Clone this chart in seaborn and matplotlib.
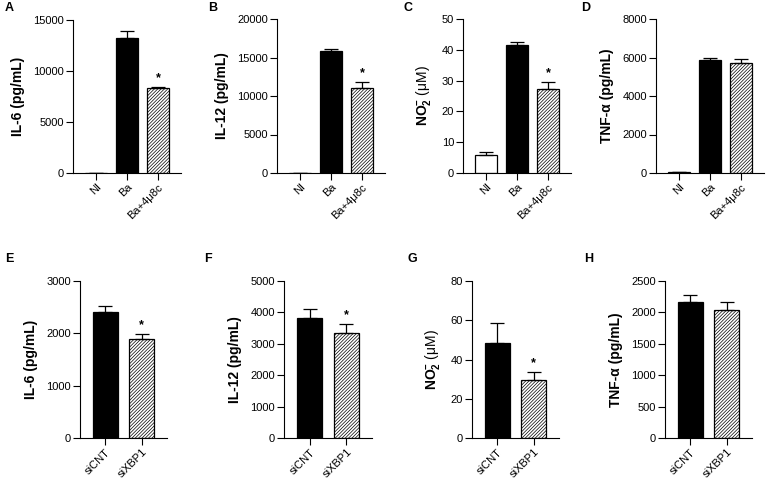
import matplotlib
matplotlib.use("Agg")
import matplotlib.pyplot as plt
import seaborn as sns

# top row: treatment groups
groups_top = ["NI", "Ba", "Ba+4μ8c"]
il6_top = [0, 13200, 8350]
il6_top_err = [0, 700, 100]
il12_top = [0, 15900, 11000]
il12_top_err = [0, 250, 800]
no2_top = [5.8, 41.5, 27.2]
no2_top_err = [0.9, 1.0, 2.4]
tnf_top = [30, 5850, 5700]
tnf_top_err = [20, 150, 200]
sig_top = [False, False, True]
sig_top_tnf = [False, False, False]

# bottom row: siRNA
groups_bot = ["siCNT", "siXBP1"]
il6_bot = [2400, 1890]
il6_bot_err = [120, 90]
il12_bot = [3830, 3330]
il12_bot_err = [290, 290]
no2_bot = [48.5, 29.8]
no2_bot_err = [10, 3.7]
tnf_bot = [2170, 2040]
tnf_bot_err = [110, 130]
sig_bot = [False, True]
sig_bot_tnf = [False, False]

style_top = [("white", ""), ("black", ""), ("white", "//////////")]
style_bot = [("black", ""), ("white", "//////////")]

sns.set_theme(style="ticks")
plt.rcParams["font.family"] = ["Liberation Sans", "DejaVu Sans"]
plt.rcParams["hatch.linewidth"] = 0.5
plt.rcParams["mathtext.fontset"] = "custom"
plt.rcParams["mathtext.rm"] = "Liberation Sans"
plt.rcParams["mathtext.bf"] = "Liberation Sans:bold"
for k in ["text.color", "axes.labelcolor", "xtick.color", "ytick.color", "axes.edgecolor"]:
    plt.rcParams[k] = "black"

W, H = 766, 480
fig = plt.figure(figsize=(W / 100, H / 100), dpi=100)

IL6 = "IL-6 (pg/mL)"
IL12 = "IL-12 (pg/mL)"
NO2 = r"$\mathbf{NO^{-}_{2}}$ ($\mathrm{\mu}$M)"
TNF = "TNF-α (pg/mL)"


def panel(box, letter, cats, vals, errs, styles, sig, ylabel, ymax, step, width, xpad):
    left, right, top, bottom = box
    ax = fig.add_axes([left / W, 1 - bottom / H, (right - left) / W, (bottom - top) / H])
    sns.barplot(x=cats, y=vals, color="white", saturation=1, edgecolor="black",
                linewidth=0.9, width=width, errorbar=None, ax=ax)
    for p, (fc, hatch) in zip(ax.patches, styles):
        p.set_facecolor(fc)
        p.set_hatch(hatch)
    xs = list(range(len(cats)))
    ax.errorbar(xs, vals, yerr=[[0] * len(errs), errs], fmt="none", ecolor="black",
                elinewidth=0.9, capsize=5, capthick=0.9, zorder=1)
    for x, v, e, s in zip(xs, vals, errs, sig):
        if s:
            ax.annotate("*", (x, v + e), xytext=(0, 2), textcoords="offset points",
                        ha="center", va="bottom", fontsize=9, fontweight="bold")
    ax.set_xlim(-xpad, len(cats) - 1 + xpad)
    ax.set_ylim(0, ymax)
    ax.set_yticks(range(0, ymax + 1, step))
    bold = "normal" if ylabel == NO2 else "bold"
    ax.set_ylabel(ylabel, fontsize=10, fontweight=bold, labelpad=6)
    ax.set_xlabel("")
    ax.tick_params(axis="both", labelsize=8, length=5, width=0.8, pad=1.5)
    ax.set_xticks(xs)
    ax.set_xticklabels(cats, rotation=45, ha="right", rotation_mode="anchor")
    sns.despine(ax=ax)
    for sp in ["left", "bottom"]:
        ax.spines[sp].set_linewidth(0.8)
    fig.text(letter[1] / W, 1 - letter[2] / H, letter[0], fontsize=9,
             fontweight="bold", ha="left", va="center")
    return ax


panel((73, 181, 20, 173), ("A", 5, 8), groups_top, il6_top, il6_top_err, style_top,
      sig_top, IL6, 15000, 5000, 0.68, 0.74)
panel((277, 385, 19, 173), ("B", 208, 8), groups_top, il12_top, il12_top_err, style_top,
      sig_top, IL12, 20000, 5000, 0.68, 0.74)
panel((463, 571, 19, 173), ("C", 404, 8), groups_top, no2_top, no2_top_err, style_top,
      sig_top, NO2, 50, 10, 0.68, 0.74)
panel((656, 764, 19, 173), ("D", 581, 8), groups_top, tnf_top, tnf_top_err, style_top,
      sig_top_tnf, TNF, 8000, 2000, 0.68, 0.74)

panel((80, 167, 281, 438), ("E", 5, 259), groups_bot, il6_bot, il6_bot_err, style_bot,
      sig_bot, IL6, 3000, 1000, 0.69, 0.7)
panel((284, 372, 281, 438), ("F", 204, 259), groups_bot, il12_bot, il12_bot_err, style_bot,
      sig_bot, IL12, 5000, 1000, 0.69, 0.7)
panel((472, 559, 281, 438), ("G", 407, 259), groups_bot, no2_bot, no2_bot_err, style_bot,
      sig_bot, NO2, 80, 20, 0.69, 0.7)
panel((665, 752, 281, 438), ("H", 584, 259), groups_bot, tnf_bot, tnf_bot_err, style_bot,
      sig_bot_tnf, TNF, 2500, 500, 0.69, 0.7)

fig.savefig("out.png", dpi=100)
plt.close(fig)
